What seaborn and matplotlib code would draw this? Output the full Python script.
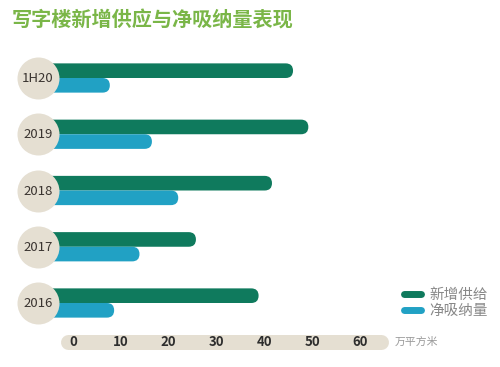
import pandas as pd
import numpy as np
import matplotlib.pyplot as plt
import seaborn as sns
from matplotlib.patches import FancyBboxPatch
from matplotlib.lines import Line2D

# DATA
periods = ['1H20', '2019', '2018', '2017', '2016']
new_supply = [46.0, 49.2, 41.6, 25.7, 38.8]
net_absorption = [7.7, 16.5, 22.0, 13.9, 8.6]
series_names = ['新增供给', '净吸纳量']
x_ticks = [0, 10, 20, 30, 40, 50, 60]
unit_label = '万平方米'
title = '写字楼新增供应与净吸纳量表现'

GREEN = '#0f7a5d'
BLUE = '#21a1c4'
BEIGE = '#e5dfd2'

df = pd.DataFrame({
    'period': periods * 2,
    'value': new_supply + net_absorption,
    'series': [series_names[0]] * len(periods) + [series_names[1]] * len(periods),
})

sns.set_theme(style='white')
plt.rcParams['font.family'] = ['Noto Sans CJK SC', 'DejaVu Sans']

W, H = 500, 367
fig = plt.figure(figsize=(W / 100, H / 100), dpi=100)
ax = fig.add_axes([0, 0, 1, 1])

# pixel layout -> data limits
px_per_x = (360 - 73) / 60.0
px_per_y = (303 - 78) / 4.0
xmin = -73 / px_per_x
xmax = (W - 73) / px_per_x
ytop = -78 / px_per_y
ybot = (H - 78) / px_per_y

sns.barplot(data=df, y='period', x='value', hue='series', orient='h',
            palette=[GREEN, BLUE], saturation=1, width=0.52, dodge=True,
            ax=ax, legend=False, order=periods)
ax.set_xlim(xmin, xmax)
ax.set_ylim(ybot, ytop)

# turn bars into rounded bars, starting behind the circles
aspect = (1 / px_per_y) / (1 / px_per_x)
start = -7.3
for p in list(ax.patches):
    x0, y0 = p.get_x(), p.get_y()
    w, h = p.get_width(), p.get_height()
    col = p.get_facecolor()
    p.remove()
    r = h / aspect / 2
    ax.add_patch(FancyBboxPatch((start, y0), x0 + w - start, h,
                                boxstyle=f'round,pad=0,rounding_size={r}',
                                mutation_aspect=aspect, facecolor=col,
                                edgecolor='none', zorder=2))

# circles with period labels
ypos = np.arange(len(periods))
ax.scatter([start] * len(periods), ypos, s=(42 * 0.72) ** 2, color=BEIGE,
           zorder=3, linewidths=0)
for y, lab in zip(ypos, periods):
    ax.text(start, y + 0.01, lab, ha='center', va='center', fontsize=9.5,
            color='#3a3430', zorder=4)

# axis band
band_y = (342 - 78) / px_per_y
ax.plot([(67.5 - 73) / px_per_x, (380.5 - 73) / px_per_x], [band_y, band_y],
        color=BEIGE, lw=15 * 0.72, solid_capstyle='round', zorder=1)
for t in x_ticks:
    ax.text(t, band_y, str(t), ha='center', va='center', fontsize=9.5,
            fontweight='semibold', color='#2e2e2e')
ax.text((395 - 73) / px_per_x, band_y, unit_label, ha='left', va='center',
        fontsize=7.8, color='#999999')

ax.axis('off')

fig.text(12 / W, 1 - 20 / H, title, ha='left', va='center', fontsize=14.5,
         fontweight='bold', color='#7ab648')

handles = [Line2D([0], [0], color=c, lw=5, solid_capstyle='round')
           for c in (GREEN, BLUE)]
leg = fig.legend(handles, series_names, loc='upper left',
                 bbox_to_anchor=(398 / W, 1 - 282 / H), frameon=False,
                 fontsize=10.5, handlelength=1.2, handletextpad=0.55,
                 labelspacing=0.15, borderaxespad=0)
for txt in leg.get_texts():
    txt.set_color('#888888')

fig.savefig('out.png', dpi=100)
